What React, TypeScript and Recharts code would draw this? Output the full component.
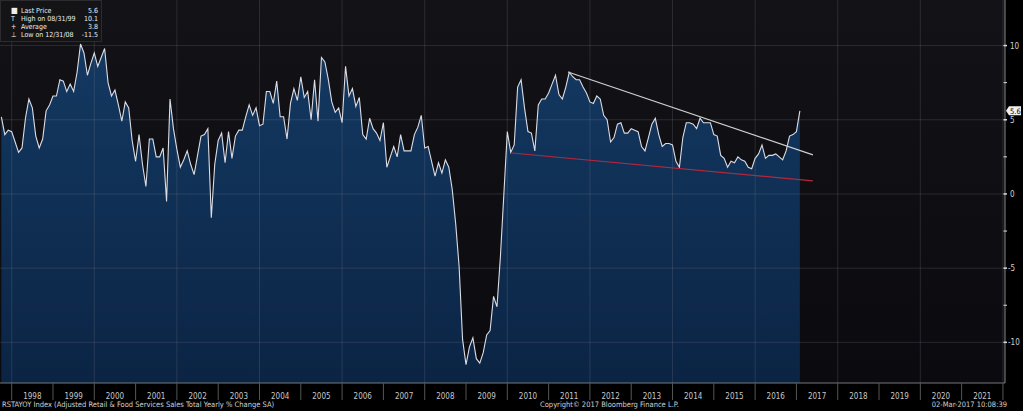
import React from 'react';
import { ComposedChart, Area, Line, XAxis, YAxis, CartesianGrid, ReferenceLine } from 'recharts';

// monthly series, month-end points, first point Sep 1997
const START_YEAR = 1997;
const START_MONTH = 9;

const yoy = [
  5.2, 4.0, 4.3, 4.2,
  3.5, 2.8, 3.1, 5.1, 6.4, 5.8, 3.9, 3.1, 3.7, 5.6, 6.0, 6.6,
  6.6, 7.7, 7.6, 6.9, 7.4, 6.9, 8.2, 10.1, 9.5, 8.0, 8.8, 9.5,
  8.6, 9.2, 9.8, 7.5, 6.6, 7.0, 6.0, 4.9, 6.2, 5.8, 3.6, 2.2,
  4.0, 2.0, 0.5, 3.7, 3.7, 2.5, 2.5, 3.1, -0.5, 6.4, 4.4, 3.0,
  1.8, 2.3, 2.9, 2.0, 1.3, 2.6, 3.9, 4.0, 4.4, -1.6, 2.0, 3.6,
  4.1, 2.1, 4.2, 2.4, 3.9, 4.3, 4.3, 5.2, 6.0, 5.3, 5.8, 4.6,
  4.7, 6.9, 6.9, 6.1, 7.6, 5.2, 5.2, 3.7, 6.1, 7.1, 6.3, 7.9,
  6.5, 6.9, 5.0, 7.7, 4.9, 9.2, 8.9, 7.7, 6.2, 5.5, 5.8, 4.8,
  8.6, 6.6, 7.1, 5.9, 6.5, 4.0, 3.7, 5.1, 4.4, 4.1, 3.6, 4.8,
  1.8, 2.5, 3.2, 2.5, 4.0, 2.9, 2.9, 2.9, 4.0, 4.5, 5.3, 3.1,
  3.2, 2.2, 1.2, 2.1, 1.4, 2.3, 1.8, 0.3, -2.0, -4.9, -9.8, -11.5,
  -10.3, -9.7, -11.1, -11.4, -10.7, -9.5, -9.2, -6.9, -7.6, -4.2, 0.0, 4.2,
  2.8, 3.3, 7.2, 7.7, 5.8, 4.2, 4.1, 2.9, 6.0, 6.4, 6.4, 6.8,
  7.4, 8.0, 6.7, 6.4, 7.2, 8.2, 7.9, 7.7, 7.7, 7.2, 6.8, 6.2,
  6.1, 6.6, 6.4, 5.3, 5.0, 3.5, 3.8, 4.7, 4.8, 4.1, 4.1, 4.4,
  4.3, 4.2, 3.2, 2.9, 3.8, 4.7, 5.1, 4.0, 3.2, 3.4, 3.4, 3.3,
  2.2, 1.8, 3.8, 4.8, 4.8, 4.7, 4.4, 5.1, 4.8, 4.8, 4.8, 4.0,
  3.9, 2.6, 2.4, 1.8, 2.2, 2.1, 2.5, 2.3, 2.2, 1.8, 1.7, 2.4,
  2.7, 3.3, 2.4, 2.6, 2.6, 2.7, 2.5, 2.3, 2.9, 3.9, 4.0, 4.2,
  5.6,
];

const yearTicks = [
  1998, 1999, 2000, 2001, 2002, 2003, 2004, 2005, 2006, 2007, 2008, 2009,
  2010, 2011, 2012, 2013, 2014, 2015, 2016, 2017, 2018, 2019, 2020, 2021, 2022,
];
const gridYears = [1998, 2000, 2002, 2004, 2006, 2008, 2010, 2012, 2014, 2016, 2018, 2020, 2022];
const yMajor = [-10, -5, 0, 5, 10];
const yMinor = [-7.5, -2.5, 2.5, 7.5];

const highTrend = [{ t: 2011.47, v: 8.22 }, { t: 2017.4, v: 2.63 }];
const lowTrend = [{ t: 2010.11, v: 2.76 }, { t: 2017.4, v: 0.88 }];

const legendRows = [
  { icon: '■', label: 'Last Price', value: '5.6' },
  { icon: 'T', label: 'High on 08/31/99', value: '10.1' },
  { icon: '+', label: 'Average', value: '3.8' },
  { icon: '⊥', label: 'Low on 12/31/08', value: '-11.5' },
];

const X_MIN = 1997.717;
const X_MAX = 2022.05;
const Y_MIN = -12.74;
const Y_MAX = 13.07;
const W = 1023;
const H = 411;
const AXIS_W = 18;
const PX_PER_YEAR = (W - AXIS_W) / (X_MAX - X_MIN);

const LAST = yoy[yoy.length - 1];
const data = yoy.map((v, i) => ({ t: START_YEAR + (START_MONTH + i) / 12, v }));

const FONT = "'Liberation Sans Narrow', 'DejaVu Sans Condensed', 'Liberation Sans', Arial, sans-serif";

const XTick = (props: any) => {
  const { x, y, payload } = props;
  const yr = payload.value;
  return (
    <g>
      <line x1={x} x2={x} y1={y} y2={y + 17} stroke="#555" />
      {yr < 2022 && (
        <text x={x + PX_PER_YEAR / 2} y={y + 16} textAnchor="middle" fill="#c8c8c8" fontSize={8} fontFamily={FONT}>
          {yr}
        </text>
      )}
    </g>
  );
};

const YTick = (props: any) => {
  const { x, y, payload } = props;
  const v = payload.value;
  if (v === LAST) {
    return (
      <g>
        <polygon points={`${x + 1},${y} ${x + 4},${y - 4.5} ${x + 16},${y - 4.5} ${x + 16},${y + 4.5} ${x + 4},${y + 4.5}`} fill="#f0f0f0" />
        <text x={x + 5} y={y + 2.8} fill="#000" fontSize={7.5} fontFamily={FONT}>{v}</text>
      </g>
    );
  }
  const major = v % 5 === 0;
  return (
    <g>
      <line x1={x - 1.5} x2={x + 2} y1={y} y2={y} stroke="#ddd" strokeWidth={major ? 1.5 : 1} />
      {major && (
        <text x={v < 0 ? x + 3 : x + 5} y={y + 3} fill="#d0d0d0" fontSize={8} fontFamily={FONT}>
          {v}
        </text>
      )}
    </g>
  );
};

export default function App() {
  return (
    <div style={{ position: 'absolute', left: 0, top: 0, width: W, height: H, background: '#000', overflow: 'hidden' }}>
      <ComposedChart width={W} height={H} data={data} margin={{ top: 0, right: 0, left: 0, bottom: 0 }}>
        <defs>
          <linearGradient id="bg" x1="0" y1="0" x2="0" y2="1">
            <stop offset="0%" stopColor="#131216" />
            <stop offset="100%" stopColor="#0b0b0f" />
          </linearGradient>
          <linearGradient id="fillBlue" x1="0" y1="0" x2="0" y2="1">
            <stop offset="0%" stopColor="#143962" />
            <stop offset="100%" stopColor="#0b2444" />
          </linearGradient>
        </defs>
        <CartesianGrid horizontal={false} vertical={false} fill="url(#bg)" />
        <XAxis
          dataKey="t"
          type="number"
          domain={[X_MIN, X_MAX]}
          allowDataOverflow
          ticks={yearTicks}
          tick={<XTick />}
          tickSize={0}
          tickMargin={0}
          tickLine={false}
          axisLine={{ stroke: '#777' }}
          height={28}
          interval={0}
        />
        <YAxis
          orientation="right"
          type="number"
          domain={[Y_MIN, Y_MAX]}
          allowDataOverflow
          ticks={[...yMajor, ...yMinor, LAST]}
          tick={<YTick />}
          tickSize={0}
          tickMargin={0}
          tickLine={false}
          axisLine={{ stroke: '#888' }}
          width={AXIS_W}
          interval={0}
        />
        <Area
          dataKey="v"
          type="linear"
          baseValue={Y_MIN}
          stroke="none"
          fill="url(#fillBlue)"
          fillOpacity={1}
          isAnimationActive={false}
        />
        {yMajor.map((v) => (
          <ReferenceLine key={'h' + v} y={v} stroke="#8a8a96" strokeOpacity={0.22} />
        ))}
        {gridYears.map((t) => (
          <ReferenceLine key={'v' + t} x={t} stroke="#8a8a96" strokeOpacity={0.22} />
        ))}
        <Line dataKey="v" type="linear" stroke="#dcdce4" strokeWidth={1.1} dot={false} isAnimationActive={false} />
        <ReferenceLine
          segment={[{ x: highTrend[0].t, y: highTrend[0].v }, { x: highTrend[1].t, y: highTrend[1].v }]}
          stroke="#cfcfcf"
          strokeWidth={1.2}
        />
        <ReferenceLine
          segment={[{ x: lowTrend[0].t, y: lowTrend[0].v }, { x: lowTrend[1].t, y: lowTrend[1].v }]}
          stroke="#b3283f"
          strokeWidth={1.2}
        />
      </ComposedChart>

      <div
        style={{
          position: 'absolute', left: 0, top: 0, width: 102, height: 42, background: '#141416',
          border: '1px solid #2c2c30', boxSizing: 'border-box', fontFamily: FONT, fontSize: 7, color: '#eee',
          padding: '6px 3px 0 2px', whiteSpace: 'nowrap',
        }}
      >
        {legendRows.map((r) => (
          <div key={r.label} style={{ display: 'flex', height: 8, lineHeight: '8px' }}>
            <span style={{ width: 18, paddingLeft: 8, boxSizing: 'border-box', fontSize: r.icon === '■' ? 8 : 7 }}>{r.icon}</span>
            <span style={{ flex: 1, whiteSpace: 'nowrap', overflow: 'visible' }}>{r.label}</span>
            <span style={{ whiteSpace: 'nowrap', paddingLeft: 3 }}>{r.value}</span>
          </div>
        ))}
      </div>

      <div style={{ position: 'absolute', left: 2, top: 400, fontFamily: FONT, fontSize: 7.5, color: '#d0d0d0', whiteSpace: 'nowrap' }}>
        RSTAYOY Index (Adjusted Retail &amp; Food Services Sales Total Yearly % Change SA)
      </div>
      <div style={{ position: 'absolute', left: 540, top: 400, fontFamily: FONT, fontSize: 7.5, color: '#d0d0d0', whiteSpace: 'nowrap' }}>
        Copyright© 2017 Bloomberg Finance L.P.
      </div>
      <div style={{ position: 'absolute', right: 16, top: 400, fontFamily: FONT, fontSize: 7.5, color: '#d0d0d0', whiteSpace: 'nowrap' }}>
        02-Mar-2017 10:08:39
      </div>
    </div>
  );
}
